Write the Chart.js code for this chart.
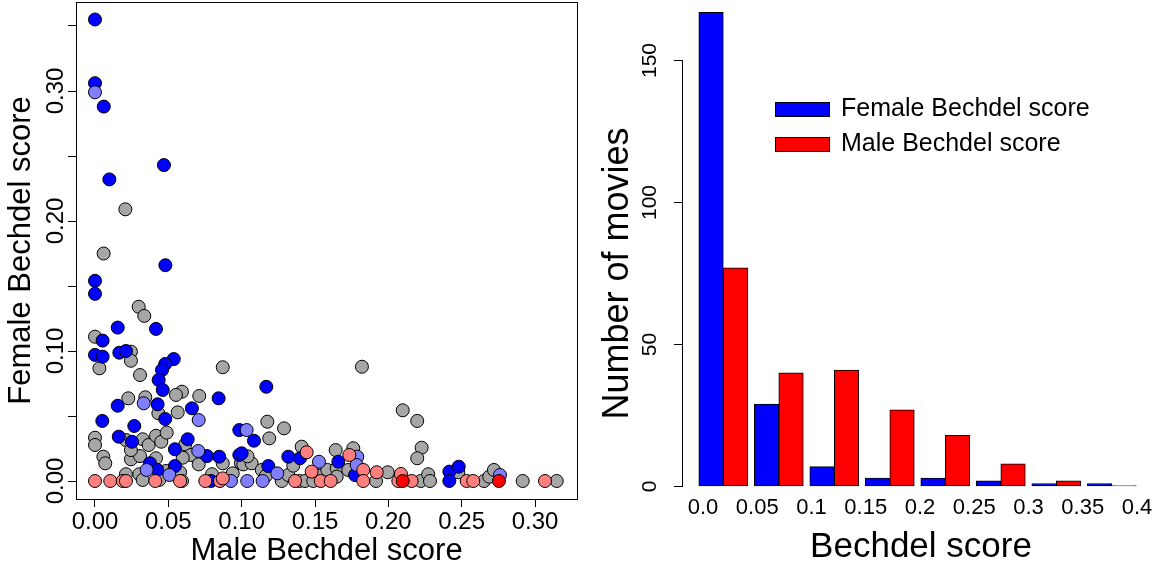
<!DOCTYPE html>
<html>
<head>
<meta charset="utf-8">
<script src="https://cdn.jsdelivr.net/npm/chart.js@4.4.1/dist/chart.umd.min.js"></script>
<style>
  html, body { margin: 0; padding: 0; background: #fff; }
  #wrap { position: relative; width: 1169px; height: 570px; overflow: hidden; }
  canvas { position: absolute; top: 0; }
  #scatter { left: 0; }
  #hist { left: 590px; }
</style>
</head>
<body>
<div id="wrap">
  <canvas id="scatter" width="590" height="570"></canvas>
  <canvas id="hist" width="579" height="570"></canvas>
</div>
<script>
// ---------------- Scatter data (Male score x, Female score y) ----------------
const blueX = [0, 0, 0.006, 0.047, 0.0098, 0.048, 0, 0, 0.0155, 0.0416, 0.0052, 0, 0.0052, 0.0166, 0.0211, 0.0537, 0.0479, 0.0457, 0.0434, 0.0462, 0.0843, 0.1168, 0.0155, 0.0427, 0.0661, 0.0479, 0.005, 0.0268, 0.0162, 0.0252, 0.0632, 0.0545, 0.0764, 0.0847, 0.0984, 0.0984, 0.0375, 0.0425, 0.0545, 0.0791, 0.1084, 0.100, 0.1182, 0.1318, 0.1398, 0.1659, 0.1773, 0.2416, 0.248, 0.2416];
const blueY = [0.355, 0.306, 0.288, 0.243, 0.232, 0.166, 0.154, 0.144, 0.118, 0.117, 0.108, 0.097, 0.0956, 0.0987, 0.100, 0.0938, 0.090, 0.0854, 0.0777, 0.070, 0.0636, 0.0725, 0.0579, 0.059, 0.0559, 0.0477, 0.0462, 0.0423, 0.0341, 0.0302, 0.0321, 0.0244, 0.0192, 0.0187, 0.020, 0.0392, 0.0136, 0.0085, 0.0115, 0, 0.031, 0.0213, 0.0115, 0.0187, 0.0175, 0.0148, 0.0046, 0.0072, 0.011, 0];

const lightBlueX = [0, 0.0332, 0.0707, 0.0704, 0.0352, 0.0507, 0.0927, 0.1038, 0.1034, 0.1143, 0.1243, 0.1527, 0.1788, 0.1784, 0.2761];
const lightBlueY = [0.299, 0.0598, 0.0469, 0.0231, 0.0085, 0.0046, 0, 0, 0.0392, 0, 0.0059, 0.0148, 0.0187, 0.0123, 0.0046];

const greyX = [0.0207, 0.0059, 0.0298, 0.0336, 0, 0.003, 0.0245, 0.0245, 0.0307, 0.0871, 0.0593, 0.0552, 0.0711, 0.0227, 0.0343, 0.0432, 0.0564, 0, 0, 0.0211, 0.0325, 0.0366, 0.0416, 0.0452, 0.0489, 0.0616, 0.0655, 0.0598, 0.0707, 0.0871, 0.0995, 0.0057, 0.007, 0.0245, 0.0307, 0.0245, 0.0416, 0.0484, 0.058, 0.0211, 0.0302, 0.0325, 0.0438, 0.0798, 0.0939, 0.1175, 0.1289, 0.1188, 0.1011, 0.1068, 0.1137, 0.1164, 0.1273, 0.1318, 0.1352, 0.1409, 0.1393, 0.1534, 0.1584, 0.1641, 0.1648, 0.1648, 0.1727, 0.1761, 0.1916, 0.1996, 0.182, 0.2098, 0.2197, 0.2227, 0.2197, 0.2221, 0.2272, 0.2284, 0.2477, 0.2652, 0.2688, 0.272, 0.2916, 0.3148, 0.104, 0.1432, 0.1488, 0.0593];
const greyY = [0.209, 0.175, 0.134, 0.127, 0.111, 0.0867, 0.0995, 0.0925, 0.0815, 0.0875, 0.0687, 0.0662, 0.0654, 0.0636, 0.0644, 0.0521, 0.0528, 0.0333, 0.0277, 0.0315, 0.0321, 0.0277, 0.0348, 0.0302, 0.0372, 0.0282, 0.020, 0.0179, 0.0128, 0.0136, 0.0136, 0.0187, 0.0136, 0.0167, 0.0192, 0.0238, 0.0175, 0.0077, 0.0067, 0.0052, 0.0052, 0.0008, 0.0008, 0.0052, 0.0059, 0.0456, 0.0405, 0.0328, 0.0128, 0.0136, 0.0085, 0.0038, 0, 0.0046, 0.0118, 0.0264, 0, 0.0041, 0.0085, 0.0238, 0.0098, 0.0033, 0.0085, 0.0252, 0, 0.0067, 0.0879, 0.0544, 0.0462, 0.0256, 0.0175, 0, 0.0052, 0, 0.0067, 0, 0.0033, 0.0085, 0, 0, 0.019, 0, 0, 0];

const pinkX = [0, 0.0104, 0.0189, 0.0211, 0.0411, 0.058, 0.0752, 0.0852, 0.0871, 0.1364, 0.1443, 0.1477, 0.1539, 0.1607, 0.1734, 0.1829, 0.1829, 0.1921, 0.2068, 0.2086, 0.2159, 0.2534, 0.2579, 0.3068];
const pinkY = [0, 0, 0, 0, 0, 0, 0, 0, 0.002, 0, 0.0221, 0.0072, 0, 0, 0.020, 0.0085, 0, 0.0067, 0, 0.0054, 0, 0, 0, 0];

const redX = [0.2098, 0.2754];
const redY = [0, 0];

const scatterXTicks = [0, 0.05, 0.10, 0.15, 0.20, 0.25, 0.30];
const scatterXTickLabels = ['0.00', '0.05', '0.10', '0.15', '0.20', '0.25', '0.30'];
const scatterYTicks = [0, 0.05, 0.10, 0.15, 0.20, 0.25, 0.30, 0.35];
const scatterYTickLabels = ['0.00', '', '0.10', '', '0.20', '', '0.30', ''];

// ---------------- Histogram data ----------------
const binCenters = [0.025, 0.075, 0.125, 0.175, 0.225, 0.275, 0.325, 0.375];
const femaleCounts = [167, 29, 7, 3, 3, 2, 1, 1];
const maleCounts = [77, 40, 41, 27, 18, 8, 2, 0];
const histXTicks = [0, 0.05, 0.10, 0.15, 0.20, 0.25, 0.30, 0.35, 0.40];
const histXTickLabels = ['0.0', '0.05', '0.1', '0.15', '0.2', '0.25', '0.3', '0.35', '0.4'];
const histYTicks = [0, 50, 100, 150];
const histYTickLabels = ['0', '50', '100', '150'];

// ---------------- Common ----------------
Chart.defaults.font.family = "'Liberation Sans', Arial, Helvetica, sans-serif";
Chart.defaults.color = '#000';
Chart.defaults.animation = false;

const pts = (xs, ys) => xs.map((x, i) => ({ x: x, y: ys[i] }));
const setTicks = (vals) => (scale) => { scale.ticks = vals.map(v => ({ value: v })); };

const boxPlugin = {
  id: 'frameBox',
  afterDatasetsDraw(chart) {
    const { ctx, chartArea: a } = chart;
    ctx.save();
    ctx.strokeStyle = '#000';
    ctx.lineWidth = 1;
    ctx.strokeRect(Math.round(a.left) + 0.5, Math.round(a.top) + 0.5,
                   Math.round(a.right - a.left), Math.round(a.bottom - a.top));
    ctx.restore();
  }
};

function scatterSet(label, xs, ys, color) {
  return {
    label: label,
    data: pts(xs, ys),
    backgroundColor: color,
    borderColor: '#000',
    borderWidth: 1,
    pointRadius: 6.5,
    pointHoverRadius: 6.5,
    showLine: false,
    clip: false
  };
}

const scatterChart = new Chart(document.getElementById('scatter'), {
  type: 'scatter',
  data: {
    datasets: [
      scatterSet('red', redX, redY, '#FF0000'),
      scatterSet('pink', pinkX, pinkY, '#FF7F7F'),
      scatterSet('lightblue', lightBlueX, lightBlueY, '#7F7FFF'),
      scatterSet('blue', blueX, blueY, '#0000FF'),
      scatterSet('grey', greyX, greyY, '#A6A6A6')
    ]
  },
  options: {
    responsive: false,
    devicePixelRatio: 1,
    layout: { autoPadding: false, padding: { top: 2, right: 13, left: 0, bottom: 0 } },
    plugins: { legend: { display: false }, tooltip: { enabled: false } },
    scales: {
      x: {
        type: 'linear',
        offset: false,
        min: -0.01295, max: 0.32863,
        afterBuildTicks: setTicks(scatterXTicks),
        afterFit: (s) => { s.height = 71; },
        border: { display: false },
        grid: { drawOnChartArea: false, drawTicks: true, tickLength: 8, color: '#000', tickColor: '#000' },
        ticks: {
          autoSkip: false, maxRotation: 0, padding: 1,
          font: { size: 24 },
          callback: (v, i) => scatterXTickLabels[i]
        },
        title: { display: true, text: 'Male Bechdel score', font: { size: 31 }, padding: { top: 0, bottom: 0 } }
      },
      y: {
        type: 'linear',
        offset: false,
        min: -0.01385, max: 0.36846,
        afterBuildTicks: setTicks(scatterYTicks),
        afterFit: (s) => { s.width = 76; s.paddingTop = 0; s.paddingBottom = 0; },
        border: { display: false },
        grid: { drawOnChartArea: false, drawTicks: true, tickLength: 8, color: '#000', tickColor: '#000' },
        ticks: {
          autoSkip: false, minRotation: 90, maxRotation: 90, crossAlign: 'center', padding: -12,
          font: { size: 24 },
          callback: (v, i) => scatterYTickLabels[i]
        },
        title: { display: true, text: 'Female Bechdel score', font: { size: 31 }, padding: { top: 3, bottom: 0 } }
      }
    }
  },
  plugins: [boxPlugin]
});

// R-style 4% axis extension: keep 0 at the same place and 0.05 per 65px
(function pinY(chart) {
  const a = chart.chartArea;
  const zeroPx = 481, pxPerUnit = 1300;
  chart.options.scales.y.max = (zeroPx - a.top) / pxPerUnit;
  chart.options.scales.y.min = (zeroPx - a.bottom) / pxPerUnit;
  chart.update('none');
})(scatterChart);

// ---------------- Histogram ----------------
const legendPlugin = {
  id: 'insetLegend',
  afterDraw(chart) {
    const ctx = chart.ctx;
    const rows = [102, 137];
    ctx.save();
    ctx.font = "25px 'Liberation Sans', Arial, sans-serif";
    ctx.textBaseline = 'middle';
    ctx.textAlign = 'left';
    chart.data.datasets.forEach((ds, i) => {
      const top = rows[i];
      ctx.fillStyle = ds.backgroundColor;
      ctx.fillRect(185, top, 54, 14);
      ctx.strokeStyle = '#000';
      ctx.lineWidth = 1;
      ctx.strokeRect(185.5, top + 0.5, 54, 14);
      ctx.fillStyle = '#000';
      ctx.fillText(ds.label, 251, top + 7.5);
    });
    ctx.restore();
  }
};

function barSet(label, counts, color) {
  return {
    label: label,
    data: binCenters.map((c, i) => ({ x: c, y: counts[i] })),
    xAxisID: 'xb',
    yAxisID: 'y',
    backgroundColor: color,
    borderColor: '#000',
    borderWidth: 1,
    borderSkipped: false,
    barThickness: 24.5,
    minBarLength: 1,
    clip: false
  };
}

new Chart(document.getElementById('hist'), {
  type: 'bar',
  data: {
    datasets: [
      barSet('Female Bechdel score', femaleCounts, '#0000FF'),
      barSet('Male Bechdel score', maleCounts, '#FF0000')
    ]
  },
  options: {
    responsive: false,
    devicePixelRatio: 1,
    layout: { autoPadding: false, padding: { top: 60.5, right: 9, left: 0, bottom: 0 } },
    plugins: { legend: { display: false }, tooltip: { enabled: false } },
    scales: {
      xb: {
        type: 'linear',
        display: false,
        position: 'bottom',
        offset: false,
        grid: { offset: false },
        min: -0.012207, max: 0.418424
      },
      x: {
        type: 'linear',
        position: 'bottom',
        offset: false,
        min: -0.01935, max: 0.4212,
        afterBuildTicks: setTicks(histXTicks),
        afterFit: (s) => { s.height = 83.5; },
        border: { display: false },
        grid: { display: false, offset: false, drawOnChartArea: false, drawTicks: false },
        ticks: {
          autoSkip: false, maxRotation: 0, padding: 8,
          font: { size: 22 },
          callback: (v, i) => histXTickLabels[i]
        },
        title: { display: true, text: 'Bechdel score', font: { size: 35 }, padding: { top: 0, bottom: 2 } }
      },
      y: {
        type: 'linear',
        min: 0, max: 150,
        afterBuildTicks: setTicks(histYTicks),
        afterFit: (s) => { s.width = 92; },
        border: { display: true, color: '#000', width: 1 },
        grid: { drawOnChartArea: false, drawTicks: true, tickLength: 8, color: '#000', tickColor: '#000' },
        ticks: {
          autoSkip: false, minRotation: 90, maxRotation: 90, crossAlign: 'center', padding: 6,
          font: { size: 21 },
          callback: (v, i) => histYTickLabels[i]
        },
        title: { display: true, text: 'Number of movies', font: { size: 36 }, padding: { top: 6, bottom: 0 } }
      }
    }
  },
  plugins: [legendPlugin]
});
</script>
</body>
</html>
